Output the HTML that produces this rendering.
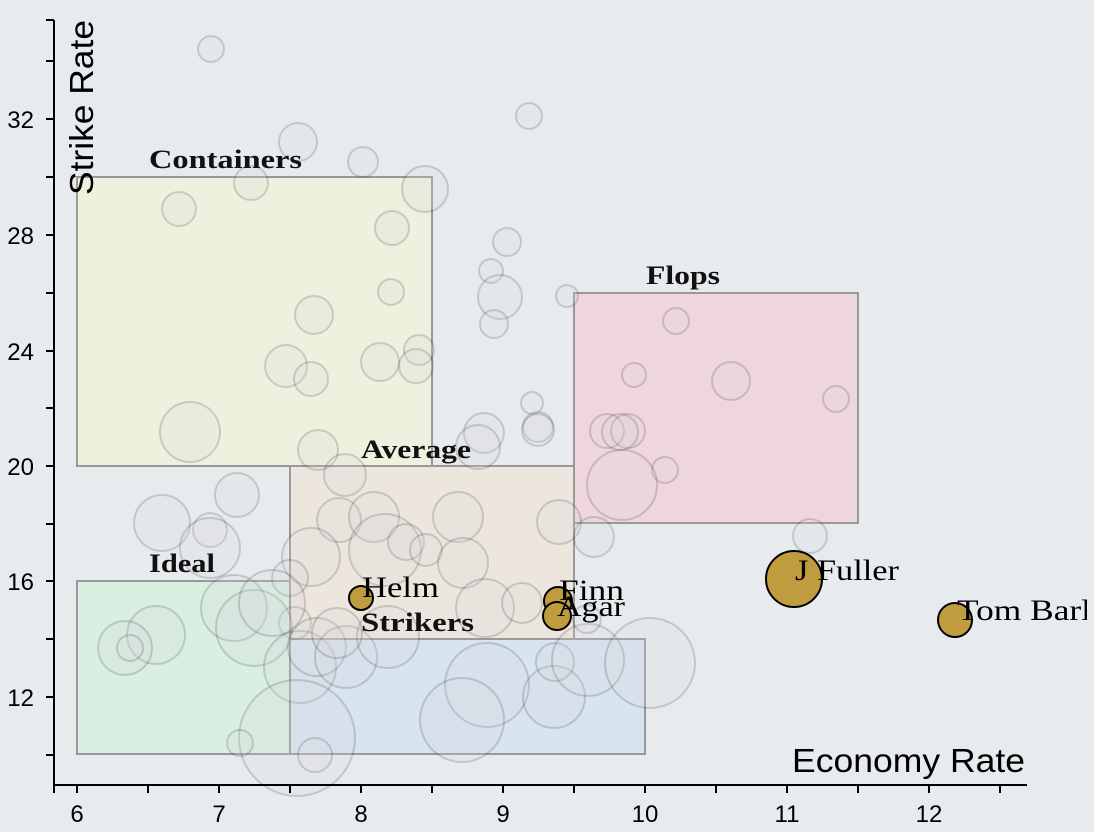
<!DOCTYPE html>
<html><head><meta charset="utf-8"><style>
html,body{margin:0;padding:0;background:#e8ebee;}
svg{display:block;}
.t{font-family:"Liberation Sans",sans-serif;font-size:24px;fill:#000;}
.lb{font-family:"Liberation Serif",serif;font-weight:bold;font-size:26px;fill:#111;}
.pl{font-family:"Liberation Serif",serif;font-size:30px;fill:#000;}
.g circle{fill:rgba(215,215,220,0.2);stroke:rgba(0,0,0,0.15);stroke-width:2;}
.gold{fill:#bf9c3e;stroke:#000;stroke-width:2;}
</style></head><body>
<svg width="1094" height="832" viewBox="0 0 1094 832" xmlns="http://www.w3.org/2000/svg">
<rect width="1094" height="832" fill="#e8ebee"/>
<defs><clipPath id="c"><rect x="0" y="0" width="1087" height="832"/></clipPath></defs>
<g stroke="#999" stroke-width="2">
<rect x="77" y="177" width="355" height="289" fill="#eff0dd"/>
<rect x="574" y="293" width="284" height="230" fill="#efd6dc"/>
<rect x="77" y="581" width="213" height="173" fill="#d9efe1"/>
<rect x="290" y="466" width="284" height="173" fill="#ede6de"/>
<rect x="290" y="639" width="355" height="115" fill="#d8e4ef"/>
</g>
<g class="g">
<circle cx="211" cy="49" r="13"/><circle cx="298" cy="142" r="19"/><circle cx="363" cy="162" r="15"/>
<circle cx="251" cy="183" r="17"/><circle cx="179" cy="209" r="17"/><circle cx="425" cy="189" r="23"/>
<circle cx="392" cy="228" r="17"/><circle cx="391" cy="292" r="13"/><circle cx="314" cy="315" r="19"/>
<circle cx="286" cy="366" r="21"/><circle cx="311" cy="379" r="17"/><circle cx="380" cy="362" r="19"/>
<circle cx="419" cy="350" r="15"/><circle cx="416" cy="366" r="17"/><circle cx="190" cy="432" r="30"/>
<circle cx="529" cy="116" r="13"/><circle cx="507" cy="242" r="14"/><circle cx="491" cy="271" r="12"/>
<circle cx="500" cy="297" r="22"/><circle cx="494" cy="324" r="14"/><circle cx="567" cy="296" r="11"/>
<circle cx="676" cy="321" r="13"/><circle cx="634" cy="375" r="12"/><circle cx="731" cy="381" r="19"/>
<circle cx="836" cy="399" r="13"/><circle cx="532" cy="403" r="11"/><circle cx="538" cy="427" r="15"/>
<circle cx="607" cy="431" r="17"/><circle cx="628" cy="431" r="17"/><circle cx="665" cy="470" r="13"/>
<circle cx="622" cy="485" r="35"/><circle cx="810" cy="536" r="17"/>
<circle cx="318" cy="450" r="20"/><circle cx="345" cy="475" r="21"/><circle cx="237" cy="495" r="22"/>
<circle cx="162" cy="523" r="28"/><circle cx="210" cy="530" r="17"/><circle cx="210" cy="548" r="30"/>
<circle cx="339" cy="520" r="22"/><circle cx="374" cy="517" r="25"/><circle cx="385" cy="550" r="36"/>
<circle cx="458" cy="517" r="25"/><circle cx="559" cy="522" r="22"/><circle cx="594" cy="537" r="20"/>
<circle cx="406" cy="542" r="18"/><circle cx="426" cy="550" r="16"/><circle cx="463" cy="563" r="25"/>
<circle cx="485" cy="608" r="29"/><circle cx="522" cy="603" r="20"/><circle cx="311" cy="557" r="29"/>
<circle cx="290" cy="578" r="18"/><circle cx="295" cy="623" r="16"/><circle cx="234" cy="608" r="33"/>
<circle cx="254" cy="628" r="38"/><circle cx="272" cy="603" r="33"/><circle cx="156" cy="635" r="29"/>
<circle cx="125" cy="648" r="27"/><circle cx="130" cy="648" r="13"/><circle cx="300" cy="667" r="36"/>
<circle cx="317" cy="647" r="29"/><circle cx="346" cy="657" r="31"/><circle cx="388" cy="637" r="31"/>
<circle cx="337" cy="633" r="25"/><circle cx="297" cy="738" r="58"/><circle cx="240" cy="743" r="13"/>
<circle cx="315" cy="755" r="17"/><circle cx="487" cy="685" r="42"/><circle cx="462" cy="720" r="42"/>
<circle cx="554" cy="697" r="31"/><circle cx="555" cy="662" r="19"/><circle cx="588" cy="660" r="36"/>
<circle cx="650" cy="663" r="45"/><circle cx="620" cy="432" r="18"/><circle cx="484" cy="433" r="20"/>
<circle cx="538" cy="430" r="16"/><circle cx="478" cy="447" r="22"/><circle cx="587" cy="619" r="14"/>
</g>
<text class="lb" x="149" y="168" textLength="153" lengthAdjust="spacingAndGlyphs">Containers</text>
<text class="lb" x="646" y="284" textLength="74" lengthAdjust="spacingAndGlyphs">Flops</text>
<text class="lb" x="361" y="458" textLength="110" lengthAdjust="spacingAndGlyphs">Average</text>
<text class="lb" x="149" y="572" textLength="66" lengthAdjust="spacingAndGlyphs">Ideal</text>
<text class="lb" x="361" y="631" textLength="113" lengthAdjust="spacingAndGlyphs">Strikers</text>
<circle class="gold" cx="361" cy="598" r="12"/>
<circle class="gold" cx="558" cy="601" r="14"/>
<circle class="gold" cx="557" cy="616" r="14"/>
<circle class="gold" cx="794" cy="579" r="28"/>
<circle class="gold" cx="955" cy="620" r="17"/>
<g clip-path="url(#c)">
<text class="pl" x="362" y="597" textLength="77" lengthAdjust="spacingAndGlyphs">Helm</text>
<text class="pl" x="559" y="600" textLength="65" lengthAdjust="spacingAndGlyphs">Finn</text>
<text class="pl" x="557" y="616" textLength="68" lengthAdjust="spacingAndGlyphs">Agar</text>
<text class="pl" x="795" y="580" textLength="104" lengthAdjust="spacingAndGlyphs">J Fuller</text>
<text class="pl" x="957" y="620" textLength="134" lengthAdjust="spacingAndGlyphs">Tom Barl</text>
</g>
<g stroke="#000" stroke-width="2" fill="none">
<path d="M54,20V785H1027"/>
<path d="M46,20H54M46,61H54M46,119H54M46,177H54M46,235H54M46,293H54M46,351H54M46,408H54M46,466H54M46,524H54M46,581H54M46,639H54M46,697H54M46,755H54"/>
<path d="M54,785v8M77,785v8M148,785v8M219,785v8M290,785v8M361,785v8M432,785v8M503,785v8M574,785v8M645,785v8M716,785v8M787,785v8M858,785v8M929,785v8M1000,785v8"/>
</g>
<g class="t" text-anchor="end">
<text x="34" y="128">32</text><text x="34" y="244">28</text><text x="34" y="360">24</text>
<text x="34" y="475">20</text><text x="34" y="590">16</text><text x="34" y="706">12</text>
</g>
<g class="t" text-anchor="middle">
<text x="77" y="822">6</text><text x="219" y="822">7</text><text x="361" y="822">8</text>
<text x="503" y="822">9</text><text x="645" y="822">10</text><text x="787" y="822">11</text><text x="929" y="822">12</text>
</g>
<text x="792" y="772" textLength="233" lengthAdjust="spacingAndGlyphs" style="font-family:'Liberation Sans',sans-serif;font-size:33px">Economy Rate</text>
<text transform="translate(93,195) rotate(-90)" textLength="175" lengthAdjust="spacingAndGlyphs" style="font-family:'Liberation Sans',sans-serif;font-size:33px">Strike Rate</text>
</svg>
</body></html>
